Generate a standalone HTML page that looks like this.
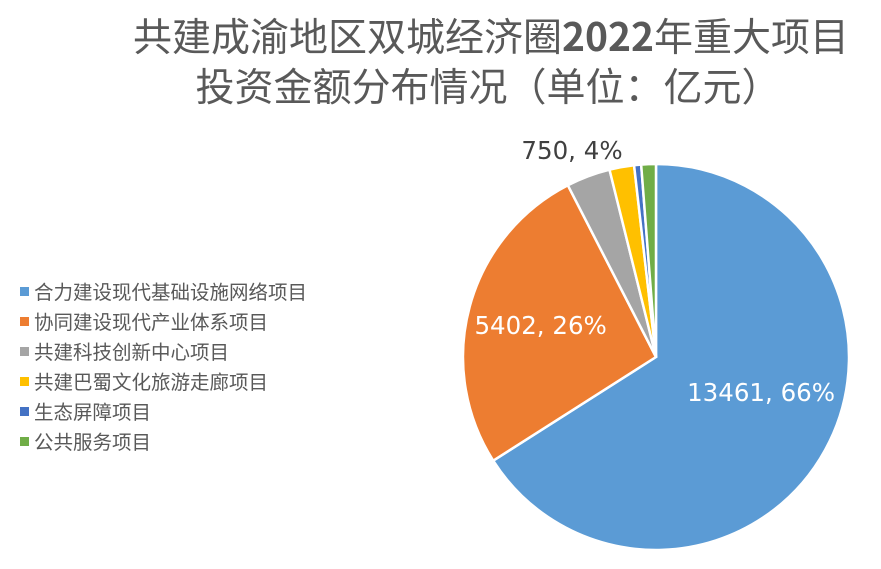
<!DOCTYPE html>
<html><head><meta charset="utf-8"><style>
body{margin:0;background:#fff;width:881px;height:564px;overflow:hidden;font-family:"Liberation Sans","Noto Sans CJK SC",sans-serif}
</style></head><body>
<svg width="881" height="564">
<text x="491" y="51" text-anchor="middle" font-size="39" fill="#595959" font-family="'Noto Sans CJK SC',sans-serif">共建成渝地区双城经济圈<tspan font-weight="bold">2022</tspan>年重大项目</text>
<text x="488" y="101" text-anchor="middle" font-size="39" fill="#595959" font-family="'Noto Sans CJK SC',sans-serif">投资金额分布情况（单位：亿元）</text>
<g id="slices"></g><g id="labels"></g><g id="legend"></g>
</svg>
<script>
const categories=["合力建设现代基础设施网络项目","协同建设现代产业体系项目","共建科技创新中心项目","共建巴蜀文化旅游走廊项目","生态屏障项目","公共服务项目"];
const values=[13461,5402,750,420,120,250];
const colors=["#5b9bd5","#ed7d31","#a5a5a5","#ffc000","#4472c4","#70ad47"];
const cx=656,cy=357,r=193;
const ns="http://www.w3.org/2000/svg";
const total=values.reduce((a,b)=>a+b,0);
const sg=document.getElementById('slices'),lg=document.getElementById('labels'),leg=document.getElementById('legend');
function pt(a,rr){return [cx+rr*Math.sin(a),cy-rr*Math.cos(a)];}
let acc=0;
values.forEach((v,i)=>{
 const a0=acc/total*2*Math.PI;acc+=v;const a1=acc/total*2*Math.PI;
 const p0=pt(a0,r),p1=pt(a1,r);
 const p=document.createElementNS(ns,'path');
 p.setAttribute('d',`M${cx},${cy}L${p0[0]},${p0[1]}A${r},${r} 0 ${a1-a0>Math.PI?1:0} 1 ${p1[0]},${p1[1]}Z`);
 p.setAttribute('fill',colors[i]);p.setAttribute('stroke','#fff');p.setAttribute('stroke-width','2.5');
 
 
 sg.appendChild(p);
 const pct=Math.round(v/total*100);
 if(i<3){
  const am=(a0+a1)/2;let lp,col;
  if(i==2){lp=[572,150];col="#404040";}
  else if(i==0){const q=pt(am,r*0.55);lp=[q[0]+12,q[1]-16];col="#fff";}
  else{const q=pt(am,r*0.63);lp=[q[0]+2,q[1]];col="#fff";}
  const t=document.createElementNS(ns,'text');
  t.setAttribute('x',lp[0]);t.setAttribute('y',lp[1]+9);t.setAttribute('text-anchor','middle');
  t.setAttribute('font-size','24.5');t.setAttribute('fill',col);
  t.setAttribute('font-family',"'DejaVu Sans',sans-serif");
  t.textContent=v+', '+pct+'%';
  
  
  lg.appendChild(t);
 }
 const y=292+i*30;
 const sq=document.createElementNS(ns,'rect');
 sq.setAttribute('x',20);sq.setAttribute('y',y-5);sq.setAttribute('width',9);sq.setAttribute('height',9);sq.setAttribute('fill',colors[i]);
 
 
 leg.appendChild(sq);
 const lt=document.createElementNS(ns,'text');
 lt.setAttribute('x',34);lt.setAttribute('y',y+7);lt.setAttribute('font-size','19.5');lt.setAttribute('fill','#595959');
 lt.setAttribute('font-family',"'Noto Sans CJK SC',sans-serif");
 lt.textContent=categories[i];
 
 
 leg.appendChild(lt);
});
</script>
</body></html>
